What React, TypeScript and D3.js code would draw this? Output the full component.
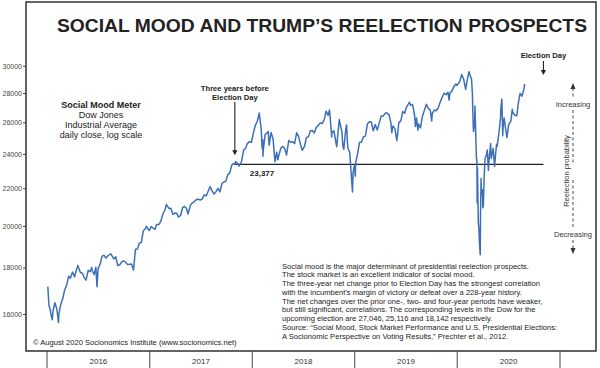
import { useEffect, useRef } from "react";
import * as d3 from "d3";

// Dow Jones Industrial Average closes (log scale)
const dow2016: [string, number][] = [
  ["2016-01-04", 17148], ["2016-01-08", 16347], ["2016-01-13", 16151], ["2016-01-15", 15988],
  ["2016-01-20", 15766], ["2016-01-22", 16093], ["2016-01-29", 16466], ["2016-02-05", 16205],
  ["2016-02-11", 15660], ["2016-02-12", 15974], ["2016-02-19", 16392], ["2016-02-26", 16640],
  ["2016-03-04", 17006], ["2016-03-11", 17213], ["2016-03-18", 17602], ["2016-03-24", 17516],
  ["2016-04-01", 17792], ["2016-04-08", 17577], ["2016-04-15", 17897], ["2016-04-20", 18096],
  ["2016-04-22", 18004], ["2016-04-29", 17774], ["2016-05-06", 17740], ["2016-05-13", 17535],
  ["2016-05-19", 17435], ["2016-05-27", 17873], ["2016-06-03", 17807], ["2016-06-08", 18005],
  ["2016-06-10", 17865], ["2016-06-17", 17675], ["2016-06-23", 18011], ["2016-06-27", 17140],
  ["2016-07-01", 17949], ["2016-07-08", 18146], ["2016-07-15", 18516], ["2016-07-22", 18571],
  ["2016-07-29", 18432], ["2016-08-05", 18543], ["2016-08-15", 18636], ["2016-08-19", 18552],
  ["2016-08-26", 18395], ["2016-09-02", 18492], ["2016-09-09", 18085], ["2016-09-16", 18124],
  ["2016-09-23", 18261], ["2016-09-30", 18308], ["2016-10-07", 18240], ["2016-10-14", 18138],
  ["2016-10-21", 18146], ["2016-10-28", 18161], ["2016-11-04", 17888], ["2016-11-11", 18847],
  ["2016-11-18", 18868], ["2016-11-25", 19152], ["2016-12-02", 19171], ["2016-12-09", 19757],
  ["2016-12-16", 19843], ["2016-12-20", 19975], ["2016-12-30", 19763],
];

const dow2017: [string, number][] = [
  ["2017-01-06", 19964], ["2017-01-13", 19886], ["2017-01-20", 19827], ["2017-01-25", 20069],
  ["2017-02-03", 20071], ["2017-02-10", 20269], ["2017-02-17", 20624], ["2017-02-24", 20822],
  ["2017-03-01", 21115], ["2017-03-10", 20903], ["2017-03-17", 20915], ["2017-03-24", 20597],
  ["2017-03-31", 20663], ["2017-04-07", 20656], ["2017-04-13", 20453], ["2017-04-21", 20548],
  ["2017-04-28", 20941], ["2017-05-05", 21007], ["2017-05-12", 20897], ["2017-05-17", 20607],
  ["2017-05-26", 21080], ["2017-06-02", 21206], ["2017-06-09", 21272], ["2017-06-16", 21384],
  ["2017-06-23", 21395], ["2017-06-30", 21350], ["2017-07-07", 21414], ["2017-07-14", 21638],
  ["2017-07-21", 21580], ["2017-07-28", 21830], ["2017-08-04", 22092], ["2017-08-11", 21858],
  ["2017-08-18", 21675], ["2017-08-25", 21814], ["2017-09-01", 21988], ["2017-09-08", 21798],
  ["2017-09-15", 22268], ["2017-09-22", 22350], ["2017-09-29", 22405], ["2017-10-06", 22774],
  ["2017-10-13", 22871], ["2017-10-20", 23329], ["2017-10-27", 23434], ["2017-10-31", 23377],
  ["2017-11-03", 23539], ["2017-11-10", 23422], ["2017-11-15", 23271], ["2017-11-24", 23558],
  ["2017-12-01", 24232], ["2017-12-08", 24329], ["2017-12-15", 24652], ["2017-12-22", 24754],
  ["2017-12-29", 24719],
];

const dow2018: [string, number][] = [
  ["2018-01-05", 25296], ["2018-01-12", 25803], ["2018-01-19", 26072], ["2018-01-26", 26617],
  ["2018-02-02", 25521], ["2018-02-05", 24346], ["2018-02-07", 24893], ["2018-02-08", 23861],
  ["2018-02-09", 24191], ["2018-02-16", 25219], ["2018-02-23", 25310], ["2018-02-27", 25410],
  ["2018-03-02", 24538], ["2018-03-09", 25336], ["2018-03-16", 24947], ["2018-03-23", 23533],
  ["2018-03-29", 24103], ["2018-04-02", 23644], ["2018-04-06", 23933], ["2018-04-13", 24360],
  ["2018-04-20", 24463], ["2018-04-27", 24311], ["2018-05-03", 23930], ["2018-05-11", 24831],
  ["2018-05-18", 24715], ["2018-05-25", 24753], ["2018-06-01", 24635], ["2018-06-08", 25317],
  ["2018-06-15", 25090], ["2018-06-22", 24581], ["2018-06-28", 24216], ["2018-07-06", 24456],
  ["2018-07-13", 25019], ["2018-07-20", 25058], ["2018-07-27", 25451], ["2018-08-03", 25463],
  ["2018-08-10", 25313], ["2018-08-17", 25669], ["2018-08-24", 25790], ["2018-08-31", 25965],
  ["2018-09-07", 25917], ["2018-09-14", 26155], ["2018-09-21", 26744], ["2018-09-28", 26458],
  ["2018-10-03", 26828], ["2018-10-05", 26447], ["2018-10-11", 25052], ["2018-10-12", 25340],
  ["2018-10-19", 25444], ["2018-10-26", 24688], ["2018-10-29", 24443], ["2018-11-02", 25271],
  ["2018-11-07", 26180], ["2018-11-09", 25989], ["2018-11-16", 25413], ["2018-11-20", 24465],
  ["2018-11-23", 24286], ["2018-11-30", 25538], ["2018-12-03", 25826], ["2018-12-07", 24389],
  ["2018-12-14", 24100], ["2018-12-21", 22445], ["2018-12-24", 21792], ["2018-12-26", 22878],
  ["2018-12-28", 23062], ["2018-12-31", 23327],
];

const dow2019: [string, number][] = [
  ["2019-01-03", 22686], ["2019-01-04", 23433], ["2019-01-11", 23996], ["2019-01-18", 24706],
  ["2019-01-25", 24737], ["2019-02-01", 25064], ["2019-02-08", 25106], ["2019-02-15", 25883],
  ["2019-02-22", 26031], ["2019-03-01", 26026], ["2019-03-08", 25450], ["2019-03-15", 25849],
  ["2019-03-22", 25502], ["2019-03-29", 25929], ["2019-04-05", 26425], ["2019-04-12", 26412],
  ["2019-04-23", 26656], ["2019-05-03", 26505], ["2019-05-10", 25942], ["2019-05-13", 25325],
  ["2019-05-17", 25764], ["2019-05-24", 25586], ["2019-05-31", 24815], ["2019-06-07", 25984],
  ["2019-06-14", 26090], ["2019-06-21", 26719], ["2019-06-28", 26600], ["2019-07-03", 26966],
  ["2019-07-15", 27359], ["2019-07-19", 27154], ["2019-07-26", 27192], ["2019-08-02", 26485],
  ["2019-08-05", 25718], ["2019-08-09", 26287], ["2019-08-14", 25479], ["2019-08-16", 25886],
  ["2019-08-23", 25629], ["2019-08-30", 26403], ["2019-09-06", 26797], ["2019-09-13", 27220],
  ["2019-09-20", 26935], ["2019-09-27", 26820], ["2019-10-02", 26079], ["2019-10-04", 26573],
  ["2019-10-11", 26817], ["2019-10-18", 26770], ["2019-10-25", 26958], ["2019-11-01", 27347],
  ["2019-11-08", 27681], ["2019-11-15", 28005], ["2019-11-22", 27876], ["2019-11-29", 28051],
  ["2019-12-03", 27503], ["2019-12-06", 28015], ["2019-12-13", 28135], ["2019-12-20", 28455],
  ["2019-12-27", 28645], ["2019-12-31", 28538],
];

const dow2020: [string, number][] = [
  ["2020-01-03", 28634], ["2020-01-10", 28823], ["2020-01-17", 29348], ["2020-01-24", 28990],
  ["2020-01-31", 28256], ["2020-02-07", 29103], ["2020-02-12", 29551], ["2020-02-14", 29398],
  ["2020-02-21", 28992], ["2020-02-24", 27961], ["2020-02-25", 27081], ["2020-02-27", 25767],
  ["2020-02-28", 25409], ["2020-03-03", 25917], ["2020-03-04", 27091], ["2020-03-06", 25865],
  ["2020-03-09", 23851], ["2020-03-11", 23553], ["2020-03-12", 21200], ["2020-03-13", 23186],
  ["2020-03-16", 20189], ["2020-03-18", 19899], ["2020-03-20", 19174], ["2020-03-23", 18592],
  ["2020-03-24", 20705], ["2020-03-26", 22552], ["2020-03-27", 21637], ["2020-03-31", 21917],
  ["2020-04-01", 20943], ["2020-04-03", 21053], ["2020-04-06", 22680], ["2020-04-09", 23719],
  ["2020-04-14", 23950], ["2020-04-17", 24242], ["2020-04-21", 23018], ["2020-04-24", 23775],
  ["2020-04-29", 24634], ["2020-05-01", 23724], ["2020-05-08", 24331], ["2020-05-13", 23248],
  ["2020-05-15", 23685], ["2020-05-20", 24576], ["2020-05-22", 24465], ["2020-05-29", 25383],
  ["2020-06-03", 26270], ["2020-06-05", 27111], ["2020-06-08", 27572], ["2020-06-11", 25128],
  ["2020-06-12", 25605], ["2020-06-16", 26290], ["2020-06-19", 25871], ["2020-06-26", 25016],
  ["2020-07-02", 25827], ["2020-07-10", 26075], ["2020-07-15", 26870], ["2020-07-17", 26672],
  ["2020-07-24", 26470], ["2020-07-31", 26428], ["2020-08-05", 27201], ["2020-08-10", 27791],
  ["2020-08-12", 27976], ["2020-08-14", 27931], ["2020-08-18", 27778], ["2020-08-21", 27930],
  ["2020-08-26", 28332], ["2020-08-28", 28654],
];

const yTicks = [16000, 18000, 20000, 22000, 24000, 26000, 28000, 30000];
const years = [2016, 2017, 2018, 2019, 2020];

const threeYearDate = "2017-10-31";
const threeYearLevel = 23377;
const electionDate = "2020-11-03";

const meterLines = ["Social Mood Meter", "Dow Jones", "Industrial Average", "daily close, log scale"];

const noteLines = [
  "Social mood is the major determinant of presidential reelection prospects.",
  "The stock market is an excellent indicator of social mood.",
  "The three-year net change prior to Election Day has the strongest correlation",
  "with the incumbent\u2019s margin of victory or defeat over a 228-year history.",
  "The net changes over the prior one-, two- and four-year periods have weaker,",
  "but still significant, correlations. The corresponding levels in the Dow for the",
  "upcoming election are 27,046, 25,116 and 18,142 respectively.",
  "Source: \u201CSocial Mood, Stock Market Performance and U.S. Presidential Elections:",
  "A Socionomic Perspective on Voting Results,\u201D Prechter et al., 2012.",
];

const FONT = "'Liberation Sans', Arial, Helvetica, sans-serif";
const INK = "#222";

export default function App() {
  const svgRef = useRef<SVGSVGElement>(null);

  useEffect(() => {
    if (!svgRef.current) return;
    const width = 600;
    const height = 368;
    const frame = { left: 26, top: 2, right: 596, bottom: 351 };

    const svg = d3.select(svgRef.current);
    svg.selectAll("*").remove();
    svg.attr("width", width).attr("height", height).style("font-family", FONT);

    const parse = d3.timeParse("%Y-%m-%d");
    const series = [...dow2016, ...dow2017, ...dow2018, ...dow2019, ...dow2020].map(
      ([d, v]) => ({ date: parse(d) as Date, value: v })
    );

    const x = d3
      .scaleTime()
      .domain([new Date(2016, 0, 1), new Date(2021, 0, 1)])
      .range([47, 560]);

    const y = d3.scaleLog().domain([16000, 30000]).range([314, 65.8]);

    svg.append("rect").attr("width", width).attr("height", height).attr("fill", "#fff");

    // Frame
    svg
      .append("rect")
      .attr("x", frame.left)
      .attr("y", frame.top)
      .attr("width", frame.right - frame.left)
      .attr("height", frame.bottom - frame.top)
      .attr("fill", "none")
      .attr("stroke", INK)
      .attr("stroke-width", 1.4);

    // Title
    svg
      .append("text")
      .attr("x", 322)
      .attr("y", 32)
      .attr("text-anchor", "middle")
      .attr("textLength", 530)
      .attr("lengthAdjust", "spacingAndGlyphs")
      .style("font-size", "18px")
      .style("font-weight", "700")
      .style("fill", INK)
      .text("SOCIAL MOOD AND TRUMP\u2019S REELECTION PROSPECTS");

    // Y axis (log)
    const yAxis = d3
      .axisLeft(y)
      .tickValues(yTicks)
      .tickSize(3)
      .tickPadding(1)
      .tickFormat((d) => String(d));

    const ya = svg.append("g").attr("transform", `translate(${frame.left},0)`).call(yAxis);
    ya.select(".domain").remove();
    ya.selectAll("line").attr("stroke", "#444");
    ya.selectAll("text")
      .style("font-family", FONT)
      .style("font-size", "7px")
      .style("fill", "#444");

    // Year ticks below the frame
    const bounds = [...years, years[years.length - 1] + 1].map((yr) => new Date(yr, 0, 1));
    svg
      .append("g")
      .selectAll("line")
      .data(bounds)
      .enter()
      .append("line")
      .attr("x1", (d) => x(d))
      .attr("x2", (d) => x(d))
      .attr("y1", frame.bottom)
      .attr("y2", height)
      .attr("stroke", "#444")
      .attr("stroke-width", 1);

    svg
      .append("g")
      .selectAll("text")
      .data(years)
      .enter()
      .append("text")
      .attr("x", (yr) => (x(new Date(yr, 0, 1)) + x(new Date(yr + 1, 0, 1))) / 2)
      .attr("y", 363.5)
      .attr("text-anchor", "middle")
      .style("font-size", "8px")
      .style("fill", "#333")
      .text((yr) => String(yr));

    // Three-year reference level
    const t0 = parse(threeYearDate) as Date;
    const tE = parse(electionDate) as Date;
    svg
      .append("line")
      .attr("x1", x(t0))
      .attr("x2", x(tE))
      .attr("y1", y(threeYearLevel))
      .attr("y2", y(threeYearLevel))
      .attr("stroke", INK)
      .attr("stroke-width", 1.3);

    // Dow line
    const line = d3
      .line<{ date: Date; value: number }>()
      .x((d) => x(d.date))
      .y((d) => y(d.value));

    svg
      .append("path")
      .datum(series)
      .attr("d", line)
      .attr("fill", "none")
      .attr("stroke", "#3b70b8")
      .attr("stroke-width", 1.5)
      .attr("stroke-linejoin", "round");

    const arrowDown = (cx: number, y1: number, y2: number) => {
      svg
        .append("line")
        .attr("x1", cx)
        .attr("x2", cx)
        .attr("y1", y1)
        .attr("y2", y2 - 4)
        .attr("stroke", INK)
        .attr("stroke-width", 1.1);
      svg
        .append("path")
        .attr("d", `M${cx - 2.6},${y2 - 5}L${cx + 2.6},${y2 - 5}L${cx},${y2}Z`)
        .attr("fill", INK);
    };

    // Three years before annotation
    const tx = x(t0);
    svg
      .append("text")
      .attr("x", tx)
      .attr("y", 91)
      .attr("text-anchor", "middle")
      .style("font-size", "7.6px")
      .style("font-weight", "700")
      .style("fill", INK)
      .text("Three years before");
    svg
      .append("text")
      .attr("x", tx)
      .attr("y", 100)
      .attr("text-anchor", "middle")
      .style("font-size", "7.6px")
      .style("font-weight", "700")
      .style("fill", INK)
      .text("Election Day");
    arrowDown(tx, 102, y(threeYearLevel) - 9);

    svg
      .append("text")
      .attr("x", 262)
      .attr("y", y(threeYearLevel) + 11.5)
      .attr("text-anchor", "middle")
      .style("font-size", "8px")
      .style("font-weight", "700")
      .style("fill", INK)
      .text(d3.format(",")(threeYearLevel));

    // Election Day annotation
    const ex = x(tE);
    svg
      .append("text")
      .attr("x", ex)
      .attr("y", 57.5)
      .attr("text-anchor", "middle")
      .style("font-size", "7.6px")
      .style("font-weight", "700")
      .style("fill", INK)
      .text("Election Day");
    arrowDown(ex, 61, 75);

    // Social Mood Meter label
    svg
      .append("g")
      .selectAll("text")
      .data(meterLines)
      .enter()
      .append("text")
      .attr("x", 101)
      .attr("y", (_, i) => 107.5 + i * 10)
      .attr("text-anchor", "middle")
      .style("font-size", "9px")
      .style("font-weight", (_, i) => (i === 0 ? "700" : "400"))
      .style("fill", INK)
      .text((d) => d);

    // Reelection probability scale
    const rx = 573;
    const dashed = (y1: number, y2: number) =>
      svg
        .append("line")
        .attr("x1", rx)
        .attr("x2", rx)
        .attr("y1", y1)
        .attr("y2", y2)
        .attr("stroke", "#333")
        .attr("stroke-width", 0.9)
        .attr("stroke-dasharray", "3,2.5");
    dashed(88, 99);
    dashed(110, 164);
    dashed(180, 228);
    dashed(240, 250);
    svg.append("path").attr("d", `M${rx - 2.5},${89}L${rx + 2.5},${89}L${rx},${83}Z`).attr("fill", "#333");
    svg.append("path").attr("d", `M${rx - 2.5},${248}L${rx + 2.5},${248}L${rx},${254}Z`).attr("fill", "#333");

    svg
      .append("text")
      .attr("x", rx)
      .attr("y", 106.5)
      .attr("text-anchor", "middle")
      .style("font-size", "7.5px")
      .style("fill", "#333")
      .text("Increasing");
    svg
      .append("text")
      .attr("x", rx)
      .attr("y", 237)
      .attr("text-anchor", "middle")
      .style("font-size", "7.5px")
      .style("fill", "#333")
      .text("Decreasing");
    svg
      .append("text")
      .attr("transform", `translate(568.5,171) rotate(-90)`)
      .attr("text-anchor", "middle")
      .style("font-size", "7.5px")
      .style("fill", "#333")
      .text("Reelection probability");

    // Notes
    svg
      .append("g")
      .selectAll("text")
      .data(noteLines)
      .enter()
      .append("text")
      .attr("x", 282)
      .attr("y", (_, i) => 268.5 + i * 8.75)
      .style("font-size", "7.6px")
      .style("fill", INK)
      .text((d) => d);

    svg
      .append("text")
      .attr("x", 33)
      .attr("y", 344.5)
      .style("font-size", "7.6px")
      .style("fill", INK)
      .text("\u00A9 August 2020 Socionomics Institute (www.socionomics.net)");
  }, []);

  return (
    <div style={{ position: "fixed", left: 0, top: 0, width: 600, height: 368, background: "#fff" }}>
      <svg ref={svgRef} style={{ display: "block" }} />
    </div>
  );
}
